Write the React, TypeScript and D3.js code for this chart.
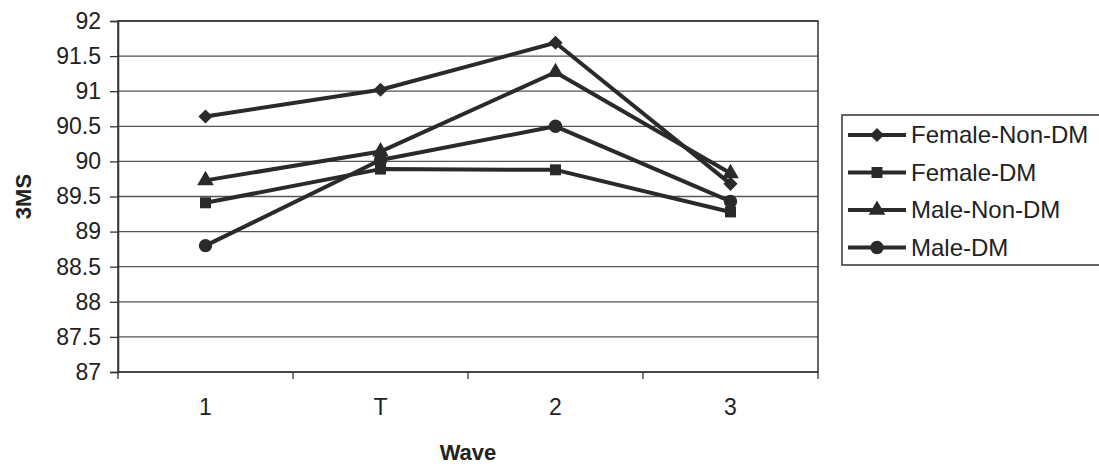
import { useEffect, useRef } from "react";
import * as d3 from "d3";

const waves = ["1", "T", "2", "3"];
const seriesNames = ["Female-Non-DM", "Female-DM", "Male-Non-DM", "Male-DM"];
const femaleNonDM = [90.64, 91.02, 91.69, 89.68];
const femaleDM = [89.41, 89.89, 89.88, 89.28];
const maleNonDM = [89.73, 90.14, 91.27, 89.83];
const maleDM = [88.8, 90.02, 90.5, 89.43];
const yTicks = [87, 87.5, 88, 88.5, 89, 89.5, 90, 90.5, 91, 91.5, 92];

const allSeries = [femaleNonDM, femaleDM, maleNonDM, maleDM];
const symbols = [d3.symbolSquare, d3.symbolSquare, d3.symbolTriangle, d3.symbolCircle];
const symbolSizes = [100, 120, 120, 140];
const symbolRotate = [45, 0, 0, 0];

const App = () => {
  const ref = useRef<SVGSVGElement>(null);

  useEffect(() => {
    const svg = d3.select(ref.current);
    svg.selectAll("*").remove();
    const width = 1099,
      height = 464;
    const margin = { top: 21, left: 118, right: 281, bottom: 92 };
    const ink = "#2a2a2a";
    const font = "Arial, 'Liberation Sans', sans-serif";

    svg.attr("width", width).attr("height", height).style("background", "#fff");

    const x = d3
      .scaleBand<string>()
      .domain(waves)
      .range([margin.left, width - margin.right]);
    const y = d3
      .scaleLinear()
      .domain([87, 92])
      .range([height - margin.bottom, margin.top]);

    // gridlines
    svg
      .append("g")
      .selectAll("line")
      .data(yTicks)
      .enter()
      .append("line")
      .attr("x1", margin.left)
      .attr("x2", width - margin.right)
      .attr("y1", (d) => y(d))
      .attr("y2", (d) => y(d))
      .attr("stroke", "#555")
      .attr("stroke-width", 1.3);

    // plot frame
    svg
      .append("rect")
      .attr("x", margin.left)
      .attr("y", margin.top)
      .attr("width", width - margin.left - margin.right)
      .attr("height", height - margin.top - margin.bottom)
      .attr("fill", "none")
      .attr("stroke", "#333")
      .attr("stroke-width", 1.5);

    // y axis
    const yAxis = svg
      .append("g")
      .attr("transform", `translate(${margin.left},0)`)
      .call(
        d3
          .axisLeft(y)
          .tickValues(yTicks)
          .tickSize(8)
          .tickPadding(9)
          .tickFormat((d) => String(d))
      );
    yAxis.select(".domain").attr("stroke", "#333").attr("stroke-width", 1.5);
    yAxis.selectAll("line").attr("stroke", "#333").attr("stroke-width", 1.3);
    yAxis
      .selectAll("text")
      .attr("fill", "#222")
      .style("font-family", font)
      .style("font-size", "23px");

    // x axis (ticks between categories)
    const xAxis = svg
      .append("g")
      .attr("transform", `translate(0,${height - margin.bottom})`)
      .call(d3.axisBottom(x).tickSize(0).tickPadding(27));
    xAxis.select(".domain").remove();
    xAxis
      .selectAll("text")
      .attr("fill", "#222")
      .style("font-family", font)
      .style("font-size", "23px");
    const bounds = waves.map((w) => x(w) ?? 0).concat([width - margin.right]);
    svg
      .append("g")
      .selectAll("line")
      .data(bounds)
      .enter()
      .append("line")
      .attr("x1", (d) => d)
      .attr("x2", (d) => d)
      .attr("y1", height - margin.bottom)
      .attr("y2", height - margin.bottom + 7)
      .attr("stroke", "#333")
      .attr("stroke-width", 1.3);

    // axis titles
    svg
      .append("text")
      .attr("transform", `translate(31,${(margin.top + height - margin.bottom) / 2}) rotate(-90)`)
      .attr("text-anchor", "middle")
      .attr("fill", "#222")
      .style("font-family", font)
      .style("font-size", "22px")
      .style("font-weight", "bold")
      .text("3MS");
    svg
      .append("text")
      .attr("x", (margin.left + width - margin.right) / 2)
      .attr("y", 460)
      .attr("text-anchor", "middle")
      .attr("fill", "#222")
      .style("font-family", font)
      .style("font-size", "22px")
      .style("font-weight", "bold")
      .text("Wave");

    const cx = (i: number) => (x(waves[i]) ?? 0) + x.bandwidth() / 2;
    const line = d3
      .line<number>()
      .x((_, i) => cx(i))
      .y((d) => y(d));

    allSeries.forEach((vals, s) => {
      svg
        .append("path")
        .datum(vals)
        .attr("fill", "none")
        .attr("stroke", ink)
        .attr("stroke-width", 4)
        .attr("stroke-linejoin", "round")
        .attr("d", line);
      svg
        .append("g")
        .selectAll("path")
        .data(vals)
        .enter()
        .append("path")
        .attr("transform", (d, i) => `translate(${cx(i)},${y(d)}) rotate(${symbolRotate[s]})`)
        .attr("d", d3.symbol().type(symbols[s]).size(symbolSizes[s])())
        .attr("fill", ink);
    });

    // legend
    const legend = svg.append("g");
    legend
      .append("rect")
      .attr("x", 842)
      .attr("y", 115)
      .attr("width", 270)
      .attr("height", 150)
      .attr("fill", "#fff")
      .attr("stroke", "#333")
      .attr("stroke-width", 1.5);
    seriesNames.forEach((name, s) => {
      const ly = 135 + s * 37.5;
      legend
        .append("line")
        .attr("x1", 848)
        .attr("x2", 906)
        .attr("y1", ly)
        .attr("y2", ly)
        .attr("stroke", ink)
        .attr("stroke-width", 4);
      legend
        .append("path")
        .attr("transform", `translate(877,${ly}) rotate(${symbolRotate[s]})`)
        .attr("d", d3.symbol().type(symbols[s]).size(symbolSizes[s])())
        .attr("fill", ink);
      legend
        .append("text")
        .attr("x", 911)
        .attr("y", ly + 8)
        .attr("fill", "#222")
        .style("font-family", font)
        .style("font-size", "24px")
        .text(name);
    });
  }, []);

  return <svg ref={ref} style={{ position: "absolute", left: 0, top: 0 }} />;
};

export default App;
